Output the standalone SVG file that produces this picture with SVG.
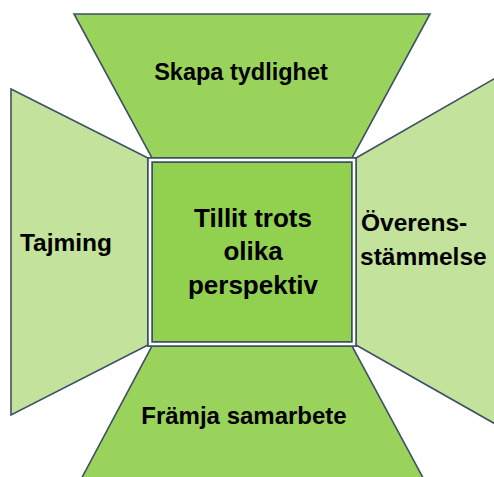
<svg xmlns="http://www.w3.org/2000/svg" width="494" height="477" viewBox="0 0 494 477">
<style>
.edge{stroke:#3f5064;stroke-width:1.6;stroke-linejoin:miter}
.mid{fill:#9ad35c}
.side{fill:#c3e29c}
.t{font-family:"Liberation Sans",Arial,sans-serif;font-weight:bold;fill:#000}
</style>
<rect width="494" height="477" fill="#fff"/>
<g id="connectors"></g>
<g id="top">
<polygon class="mid edge" points="74,14 430,14 352,158 152,158"/>
<text class="t" x="241" y="80" font-size="23.5" text-anchor="middle">Skapa tydlighet</text>
</g>
<g id="left">
<polygon class="side edge" points="11,89 148,158 148,345 11,415"/>
<text class="t" x="66" y="251" font-size="24.5" text-anchor="middle">Tajming</text>
</g>
<g id="right">
<polygon class="side edge" points="356,158 520,64 520,438 356,345"/>
<text class="t" x="361" y="231" font-size="24.5">Överens-</text>
<text class="t" x="360" y="265" font-size="24.5">stämmelse</text>
</g>
<g id="bottom">
<polygon class="mid edge" points="152,346 352,346 435,500 70,500"/>
<text class="t" x="244" y="424" font-size="24" text-anchor="middle">Främja samarbete</text>
</g>
<g id="center">
<rect x="150" y="160" width="204" height="184" fill="#92d050" stroke="#3f5064" stroke-width="6"/>
<rect x="150" y="160" width="204" height="184" fill="none" stroke="#fff" stroke-width="2.5"/>
<text class="t" x="253" y="227" font-size="26" text-anchor="middle">Tillit trots</text>
<text class="t" x="253" y="260" font-size="26" text-anchor="middle">olika</text>
<text class="t" x="253" y="294" font-size="26" text-anchor="middle">perspektiv</text>
</g>
</svg>
